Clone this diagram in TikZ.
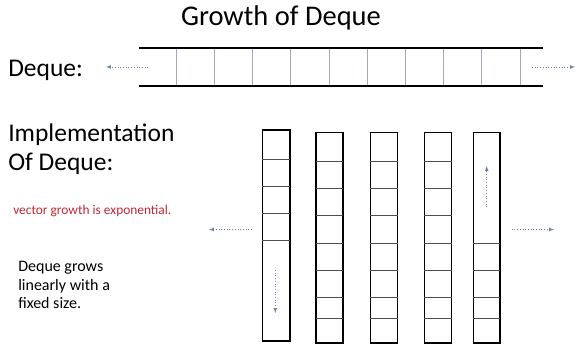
\documentclass[tikz,border=0pt]{standalone}
\usepackage{fontspec}
\setmainfont{Carlito}
\usepackage{tikz}
\usetikzlibrary{arrows}

\definecolor{arrowblue}{RGB}{110,130,165}
\definecolor{noteRed}{RGB}{192,40,50}
\definecolor{railgray}{RGB}{160,170,185}

\begin{document}
\begin{tikzpicture}[x=1pt,
            y=-1pt,
            >=latex,
            semithick,
            colbox/.style={draw=black,line width=1.6pt},
            cellline/.style={draw=black!70,line width=0.6pt},
            rowline/.style={draw=railgray,line width=0.6pt},
            rail/.style={draw=black,line width=1.8pt},
            growarrow/.style={->,draw=arrowblue,dotted,line width=0.7pt},
            label/.style={anchor=base west,inner sep=0pt}]

        \useasboundingbox (0,0) rectangle (583,348);

        % headings
        \node[anchor=base,inner sep=0pt,font=\fontsize{28.5}{32}\selectfont] (title) at (281,25) {Growth of Deque};
        \node[label,font=\fontsize{25.5}{28}\selectfont] (dq)    at (8,76.5) {Deque:};
        \node[label,font=\fontsize{25.5}{28}\selectfont] (impl)  at (8,141)  {Implementation};
        \node[label,font=\fontsize{25.5}{28}\selectfont] (ofdq)  at (8,170)  {Of Deque:};
        \node[label,font=\fontsize{13.4}{15}\selectfont,text=noteRed] (vec) at (13,214) {vector growth is exponential.};
        \node[label,font=\fontsize{16}{18.5}\selectfont,align=left,anchor=north west] (lin) at (18,261)
            {Deque grows\\linearly with a\\fixed size.};

        % the deque as one long row
        \draw[rail] (139,48) -- (543,48);
        \draw[rail] (139,86) -- (543,86);
        \foreach \x in {176,214.2,...,521}
            \draw[rowline] (\x,49) -- (\x,85);

        \coordinate (dl1) at (148,67);
        \coordinate (dl2) at (106,67);
        \coordinate (dr1) at (532,67);
        \coordinate (dr2) at (575,67);
        \draw[growarrow] (dl1) -- (dl2);
        \draw[growarrow] (dr1) -- (dr2);

        % the blocks underneath
        \draw[colbox] (262.3,130) rectangle (289.7,341);
        \foreach \y in {159.3,186.3,213.7,240.3}
            \draw[cellline] (262.3,\y) -- (289.7,\y);

        \foreach \x in {316,370.3,424.3}{
            \draw[colbox] (\x,132.3) rectangle ++(27.2,210.7);
            \foreach \y in {161.3,188.3,215.7,243,270,297.3,318.7}
                \draw[cellline] (\x,\y) -- ++(27.2,0);
        }

        \draw[colbox] (473.3,132.3) rectangle (500,343);
        \foreach \y in {243,270,297.3,318.7}
            \draw[cellline] (473.3,\y) -- (500,\y);

        \coordinate (fa1) at (275.3,270);
        \coordinate (fa2) at (275.3,313);
        \coordinate (ba1) at (486.7,207);
        \coordinate (ba2) at (486.7,166);
        \coordinate (ml1) at (251.7,229.5);
        \coordinate (ml2) at (209,229.5);
        \coordinate (mr1) at (511.7,229.5);
        \coordinate (mr2) at (554,229.5);
        \draw[growarrow] (fa1) -- (fa2);
        \draw[growarrow] (ba1) -- (ba2);
        \draw[growarrow] (ml1) -- (ml2);
        \draw[growarrow] (mr1) -- (mr2);

    \end{tikzpicture}
\end{document}
